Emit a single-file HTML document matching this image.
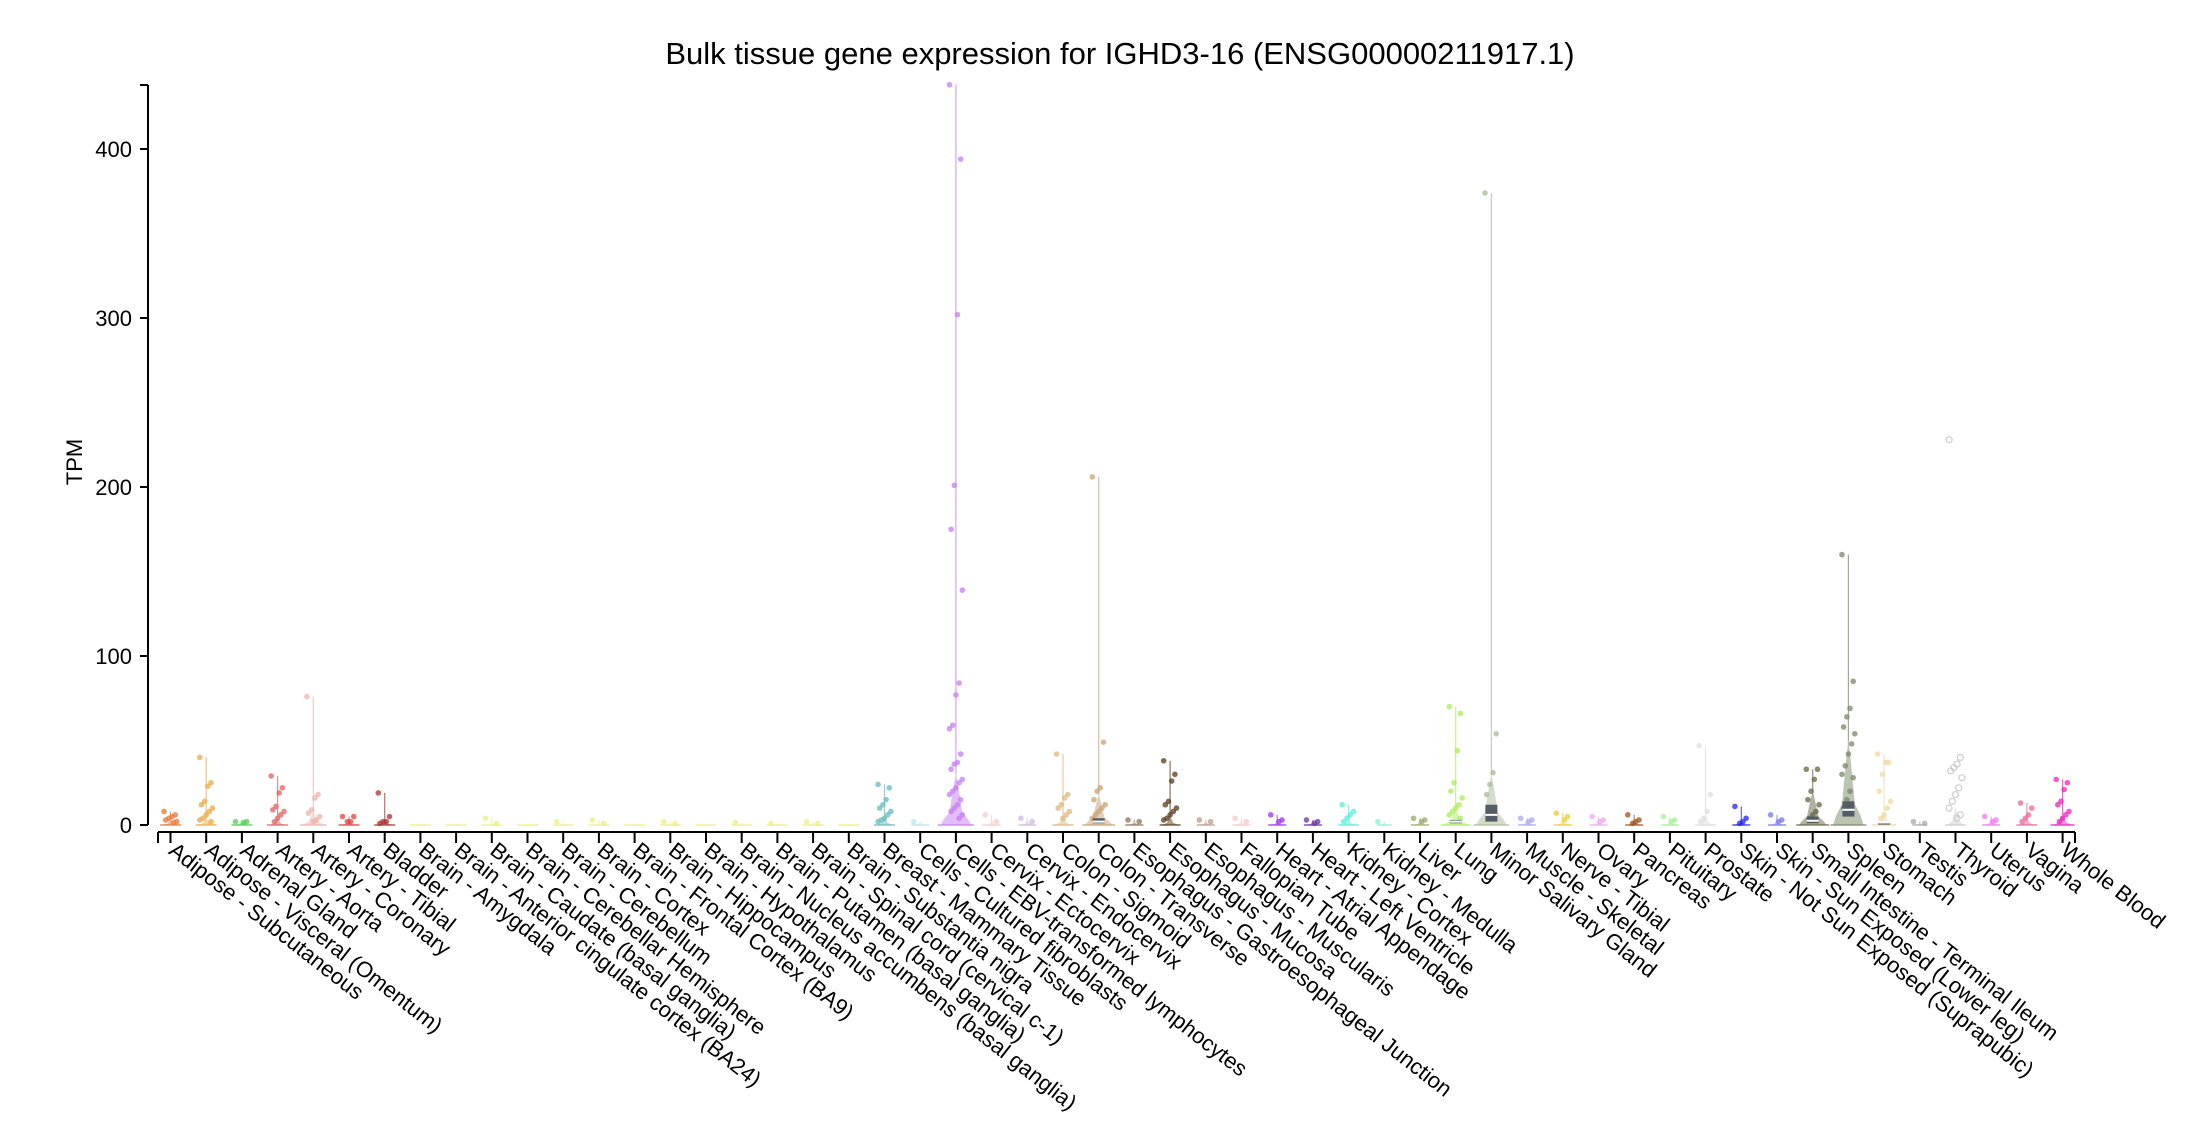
<!DOCTYPE html>
<html><head><meta charset="utf-8">
<style>
html,body{margin:0;padding:0;background:#fff;}
svg{display:block;font-family:"Liberation Sans",Arial,sans-serif;}
</style></head>
<body>
<svg id="chart" width="2196" height="1132" viewBox="0 0 2196 1132">
<text x="1120" y="64" text-anchor="middle" font-size="31">Bulk tissue gene expression for IGHD3-16 (ENSG00000211917.1)</text>
<text transform="translate(82,462) rotate(-90)" text-anchor="middle" font-size="22">TPM</text>
<g id="yaxis"></g>
<g id="xaxis"></g>
<g id="plot"></g>
</svg>
<script>
const tissues=["Adipose - Subcutaneous","Adipose - Visceral (Omentum)","Adrenal Gland","Artery - Aorta","Artery - Coronary","Artery - Tibial","Bladder","Brain - Amygdala","Brain - Anterior cingulate cortex (BA24)","Brain - Caudate (basal ganglia)","Brain - Cerebellar Hemisphere","Brain - Cerebellum","Brain - Cortex","Brain - Frontal Cortex (BA9)","Brain - Hippocampus","Brain - Hypothalamus","Brain - Nucleus accumbens (basal ganglia)","Brain - Putamen (basal ganglia)","Brain - Spinal cord (cervical c-1)","Brain - Substantia nigra","Breast - Mammary Tissue","Cells - Cultured fibroblasts","Cells - EBV-transformed lymphocytes","Cervix - Ectocervix","Cervix - Endocervix","Colon - Sigmoid","Colon - Transverse","Esophagus - Gastroesophageal Junction","Esophagus - Mucosa","Esophagus - Muscularis","Fallopian Tube","Heart - Atrial Appendage","Heart - Left Ventricle","Kidney - Cortex","Kidney - Medulla","Liver","Lung","Minor Salivary Gland","Muscle - Skeletal","Nerve - Tibial","Ovary","Pancreas","Pituitary","Prostate","Skin - Not Sun Exposed (Suprapubic)","Skin - Sun Exposed (Lower leg)","Small Intestine - Terminal Ileum","Spleen","Stomach","Testis","Thyroid","Uterus","Vagina","Whole Blood"];
const colors=["#E8773A","#E8AA44","#55CC55","#E06060","#F0B0A8","#E04040","#A83030","#EEEE88","#EEEE88","#EEEE88","#EEEE88","#EEEE88","#EEEE88","#EEEE88","#EEEE88","#EEEE88","#EEEE88","#EEEE88","#EEEE88","#EEEE88","#66BBBB","#BBE4F0","#C77CF0","#F5CCCC","#CCB8DD","#DDB77F","#C9A173","#8B7355","#5A3A1A","#BB9988","#F5C8C8","#9933EE","#663399","#55EEDD","#88F0D0","#99AA66","#AAEE55","#AABB99","#AAAAEE","#EECC33","#EEAAEE","#995522","#AAEE99","#DDDDDD","#2222EE","#7777EE","#666644","#778866","#EED9A0","#AAAAAA","#CCCCCC","#EE77EE","#EE6699","#EE22BB"];
const points=[[8,6,5,4,3,2,1.5],[40,25,23,14,12,10,8,6,4,3,2],[2,2,1.5],[29,22,19,11,9,8,6,4,2],[76,18,16,9,7,5,3,2],[5,5,2,2],[19,5,2,2,1],[],[],[4,1],[],[2],[3,1],[],[2,1],[],[1.5],[1],[2,1],[],[24,22,15,12,10,8,6,4,3,2],[2],[438,394,302,201,175,139,84,77,59,57,42,37,36,33,27,25,22,20,18,15,12,10,8,6,4],[6,2],[4,2],[42,18,16,12,10,8,6,4],[206,49,22,20,15,12,10,8,6,4],[3,2],[38,30,26,14,12,10,8,6,4,3],[3,2],[4,2],[6,3,2],[3,2,1],[12,8,6,4,2],[2],[4,3,2],[70,66,44,25,20,16,12,10,8,6,4],[374,54,31,24,18],[4,3,2],[7,5,3],[5,3,2],[6,3,2,1],[5,3,2],[47,18,8,4,2],[11,4,2,1],[6,3,2],[33,33,27,20,15,12,8,6,4],[160,85,69,64,58,54,48,42,35,30,28,20,15,10],[42,37,37,30,20,14,10,6,4],[2,1],[228,40,36,34,32,28,22,18,14,10,6,4],[5,3,2],[13,10,6,4,2],[27,25,21,14,12,8,6,4,2]];
const violinTop=[3,4,2,4,8,2,3,0.5,0.5,0.5,0.5,0.5,0.5,0.5,0.5,0.5,0.5,0.5,0.5,0.5,5,2,30,3,3,6,18,2,5,2,3,2,2,4,1,2,10,30,3,3,3,3,3,6,2,3,20,50,8,1,10,3,4,6];
const violinDensity=[0.5,0.5,0.5,0.5,0.7,0.5,0.5,0.5,0.5,0.5,0.5,0.5,0.5,0.5,0.5,0.5,0.5,0.5,0.5,0.5,0.5,0.4,1,0.4,0.4,0.5,0.9,0.4,0.5,0.4,0.4,0.4,0.4,0.5,0.3,0.4,0.8,1,0.4,0.4,0.4,0.4,0.4,0.5,0.4,0.4,0.9,1,0.6,0.3,0.5,0.4,0.5,0.6];
const boxTissue=[26,36,37,46,47,48];
const boxLow=[1,1,2,1,5,1];
const boxHigh=[4,3,12,5,14,2];
const boxMedian=[2,2,6,2.5,9,1.5];
const yTicks=[0,100,200,300,400];

const NS="http://www.w3.org/2000/svg";
const X0=170.5,DX=35.7,Y0=825,PPU=1.69;
function xs(i){return X0+i*DX;}
function ys(v){return Y0-v*PPU;}
function mk(tag,attrs,parent){const e=document.createElementNS(NS,tag);for(const k in attrs)e.setAttribute(k,attrs[k]);parent.appendChild(e);return e;}
const ya=document.getElementById('yaxis'),xa=document.getElementById('xaxis'),pl=document.getElementById('plot');
let l=mk('line',{x1:148,x2:148,y1:85,y2:Y0,stroke:'#000','stroke-width':2},ya);


mk('line',{x1:140,x2:148,y1:85,y2:85,stroke:'#000','stroke-width':2},ya);
yTicks.forEach(v=>{
 const t=mk('line',{x1:140,x2:148,y1:ys(v),y2:ys(v),stroke:'#000','stroke-width':2},ya);
 
 
 const tx=mk('text',{x:132,y:ys(v)+8,'text-anchor':'end','font-size':22},ya);
 tx.textContent=v;
 
 
});
const xl=mk('line',{x1:158,x2:2075,y1:832,y2:832,stroke:'#000','stroke-width':2},xa);


mk('line',{x1:158,x2:158,y1:832,y2:843,stroke:'#000','stroke-width':2},xa);
mk('line',{x1:2075,x2:2075,y1:832,y2:843,stroke:'#000','stroke-width':2},xa);
tissues.forEach((name,i)=>{
 const x=xs(i);
 const t=mk('line',{x1:x,x2:x,y1:832,y2:843,stroke:'#000','stroke-width':2},xa);
 
 
 const tx=mk('text',{transform:`translate(${x-3},${853}) rotate(38)`,'font-size':22},xa);
 tx.textContent=name;
 
 
 const g=mk('g',{},pl);
 
 
 const c=colors[i], pts=points[i];
 const top=violinTop[i], W=violinDensity[i]*15;
 const mx=pts.length?Math.max(...pts):top;
 const hollow=(i===50);
 if(mx>top && !hollow){mk('line',{x1:x,x2:x,y1:ys(mx),y2:ys(top),stroke:c,'stroke-width':1.2,opacity:0.7},g);}
 let left=[],right=[];
 const N=20;
 for(let k=0;k<=N;k++){const f=k/N;const v=f*top;const w=W*Math.pow(1-f,0.9)*(0.55+0.45*Math.sin(Math.PI*Math.min(1,f*2+0.5)));
  const hw=Math.max(w,k==0?W:0.6);right.push((x+hw)+','+ys(v));left.unshift((x-hw)+','+ys(v));}
 mk('polygon',{points:right.concat(left).join(' '),fill:c,opacity:0.5,stroke:'none'},g);
 mk('line',{x1:x-W-3,x2:x+W+3,y1:Y0,y2:Y0,stroke:c,'stroke-width':2,opacity:0.6},g);
 pts.forEach((v,j)=>{
  const off=((j*7)%9-4)*1.6;
  const p=hollow?mk('circle',{cx:x+off,cy:ys(v),r:3,fill:'none',stroke:c,'stroke-width':1.2},g):mk('circle',{cx:x+off,cy:ys(v),r:2.8,fill:c,opacity:0.75},g);
  
  
 });
});
boxTissue.forEach((ti,k)=>{
 const x=xs(ti);
 const b=mk('rect',{x:x-6,y:ys(boxHigh[k]),width:12,height:Math.max(3,(boxHigh[k]-boxLow[k])*PPU),fill:'#555c66'},pl);
 
 
 const m=mk('line',{x1:x-6,x2:x+6,y1:ys(boxMedian[k]),y2:ys(boxMedian[k]),stroke:'#fff','stroke-width':2},pl);
 
 
});
</script>
</body></html>
